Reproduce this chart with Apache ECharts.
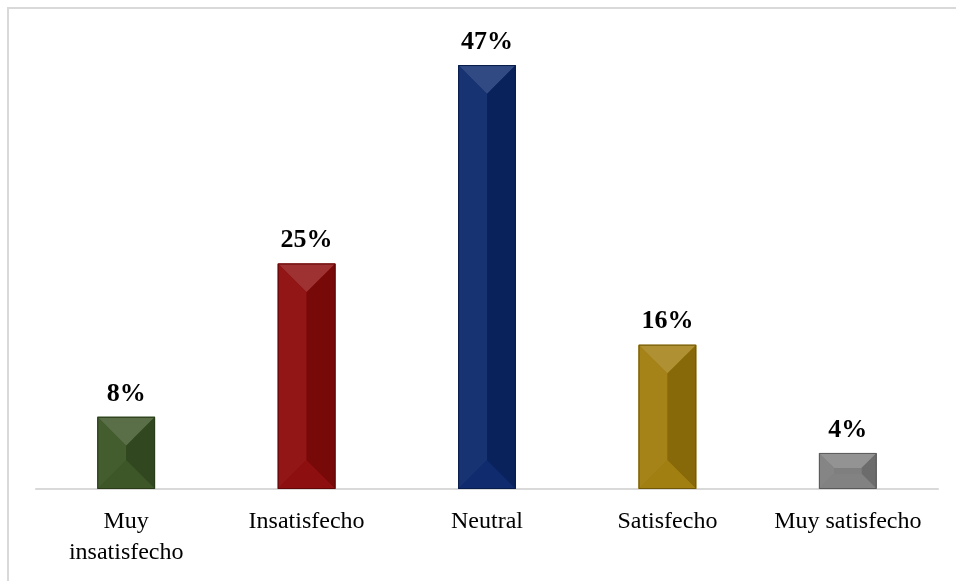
<!DOCTYPE html>
<html>
<head>
<meta charset="utf-8">
<script src="https://cdn.jsdelivr.net/npm/echarts@6/dist/echarts.min.js"></script>
<style>
html,body{margin:0;padding:0;background:#fff;}
#chart{width:956px;height:581px;}
</style>
</head>
<body>
<div id="chart"></div>
<script>
const categories = ['Muy\ninsatisfecho', 'Insatisfecho', 'Neutral', 'Satisfecho', 'Muy satisfecho'];
const values = [8, 25, 47, 16, 4];
const valueLabels = ['8%', '25%', '47%', '16%', '4%'];
const barColors = ['#3a5424', '#8c0a0a', '#0b286b', '#a07c0c', '#7f7f7f'];

function shade(hex, amt) {
  const n = parseInt(hex.slice(1), 16);
  let r = (n >> 16) & 255, g = (n >> 8) & 255, b = n & 255;
  const f = c => amt >= 0 ? Math.round(c + (255 - c) * amt) : Math.round(c * (1 + amt));
  return 'rgb(' + f(r) + ',' + f(g) + ',' + f(b) + ')';
}

const chart = echarts.init(document.getElementById('chart'), null, {renderer: 'canvas'});
const font = '"Liberation Serif", "Times New Roman", serif';

chart.setOption({
  animation: false,
  backgroundColor: '#ffffff',
  graphic: [{
    type: 'rect',
    shape: {x: 8, y: 8, width: 980, height: 600},
    style: {fill: 'none', stroke: '#d9d9d9', lineWidth: 2},
    silent: true, z: 100
  }],
  grid: {left: 36, right: 18, top: 38, bottom: 92},
  xAxis: {
    type: 'category',
    data: categories,
    axisLine: {show: true, lineStyle: {color: '#d9d9d9', width: 2}},
    axisTick: {show: false},
    axisLabel: {color: '#000', fontFamily: font, fontSize: 24, lineHeight: 31, margin: 17, interval: 0}
  },
  yAxis: {
    type: 'value', min: 0, max: 50,
    show: false, splitLine: {show: false}
  },
  series: [{
    type: 'custom',
    data: values.map((v, i) => [i, v]),
    renderItem: function (params, api) {
      const idx = api.value(0);
      const val = api.value(1);
      const top = api.coord([idx, val]);
      const base = api.coord([idx, 0]);
      const w = api.size([1, 0])[0] * 0.32;
      const cx = top[0];
      const x0 = cx - w / 2, x1 = cx + w / 2, y0 = top[1], y1 = base[1];
      const h = y1 - y0;
      const d = Math.min(w / 2, h * 0.42);
      const c = barColors[idx];
      const ix0 = x0 + d, ix1 = x1 - d, iy0 = y0 + d, iy1 = y1 - d;
      const poly = (pts, fill) => ({type: 'polygon', shape: {points: pts}, style: {fill: fill}});
      return {
        type: 'group',
        children: [
          {type: 'rect', shape: {x: x0, y: y0, width: w, height: h}, style: {fill: c}},
          poly([[x0, y0], [x1, y0], [ix1, iy0], [ix0, iy0]], shade(c, 0.16)),
          poly([[x0, y0], [ix0, iy0], [ix0, iy1], [x0, y1]], shade(c, 0.05)),
          poly([[x1, y0], [ix1, iy0], [ix1, iy1], [x1, y1]], shade(c, -0.15)),
          poly([[x0, y1], [ix0, iy1], [ix1, iy1], [x1, y1]], shade(c, 0.02)),
          {type: 'rect', shape: {x: ix0, y: iy0, width: Math.max(0, ix1 - ix0), height: Math.max(0, iy1 - iy0)}, style: {fill: c}},
          {type: 'rect', shape: {x: x0 + 0.5, y: y0 + 0.5, width: w - 1, height: h - 1}, style: {fill: 'none', stroke: shade(c, -0.3), lineWidth: 1}},
          {type: 'text', style: {text: valueLabels[idx], x: cx, y: y0 - 10, align: 'center', verticalAlign: 'bottom',
            font: 'bold 26px ' + font, fill: '#000'}}
        ]
      };
    }
  }]
});
</script>
</body>
</html>
